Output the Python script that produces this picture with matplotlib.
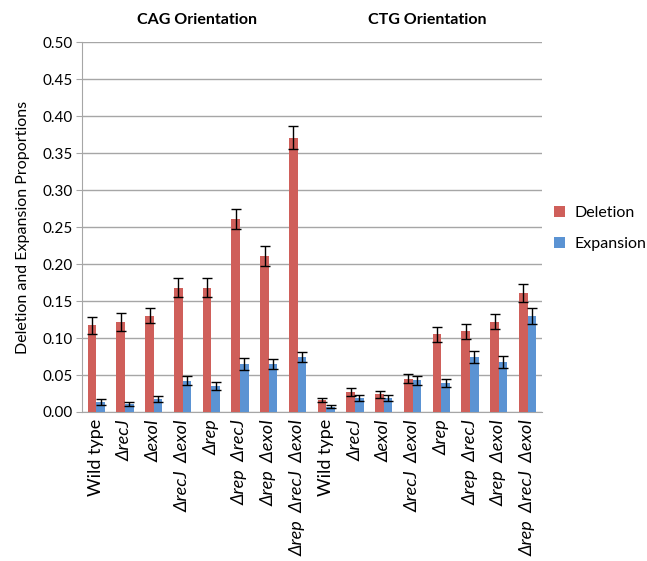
import numpy as np
import matplotlib
matplotlib.use("Agg")
from matplotlib import pyplot as plt

plt.rcParams['font.family'] = ['Lato', 'DejaVu Sans']

strains = ["Wild type", "ΔrecJ", "ΔexoI", "ΔrecJ  ΔexoI", "Δrep",
           "Δrep  ΔrecJ", "Δrep  ΔexoI", "Δrep  ΔrecJ  ΔexoI"]
labels = strains + strains

deletion = [0.117, 0.122, 0.130, 0.168, 0.168, 0.261, 0.211, 0.371,
            0.016, 0.027, 0.024, 0.045, 0.105, 0.109, 0.122, 0.161]
deletion_err = [0.011, 0.012, 0.010, 0.013, 0.013, 0.014, 0.014, 0.015,
                0.003, 0.005, 0.005, 0.006, 0.010, 0.010, 0.010, 0.012]
expansion = [0.014, 0.011, 0.017, 0.042, 0.035, 0.065, 0.065, 0.074,
             0.007, 0.019, 0.019, 0.043, 0.039, 0.074, 0.068, 0.130]
expansion_err = [0.004, 0.003, 0.004, 0.006, 0.005, 0.008, 0.007, 0.007,
                 0.002, 0.004, 0.004, 0.006, 0.005, 0.008, 0.008, 0.011]

red = '#cf5f5a'
blue = '#5b93d3'

fig = plt.figure(figsize=(6.47, 5.61), dpi=100)
ax = fig.add_axes([0.1267, 0.2656, 0.711, 0.6594])

x = np.arange(len(labels))
w = 0.3
ax.bar(x - w/2, deletion, w, color=red, label='Deletion', zorder=3)
ax.bar(x + w/2, expansion, w, color=blue, label='Expansion', zorder=3)
ax.errorbar(x - w/2, deletion, yerr=deletion_err, fmt='none', ecolor='black',
            elinewidth=1, capsize=3.5, capthick=1, zorder=4)
ax.errorbar(x + w/2, expansion, yerr=expansion_err, fmt='none', ecolor='black',
            elinewidth=1, capsize=3.5, capthick=1, zorder=4)

ax.set_xlim(-0.5, len(labels) - 0.5)
ax.set_ylim(0, 0.5)
yt = np.arange(0, 0.51, 0.05)
ax.set_yticks(yt)
ax.set_yticklabels(['%.2f' % v for v in yt], fontsize=11)
ax.grid(axis='y', color='#a6a6a6', linewidth=1, zorder=0)
ax.set_axisbelow(True)
for s in ['top', 'right']:
    ax.spines[s].set_visible(False)
for s in ['left', 'bottom']:
    ax.spines[s].set_color('#a6a6a6')
ax.tick_params(axis='y', length=4, color='#a6a6a6', pad=3)
ax.tick_params(axis='x', length=0, pad=5)

ax.set_xticks(x)
ax.set_xticklabels(labels, rotation=90, fontsize=13)
for t in ax.get_xticklabels():
    if t.get_text() != "Wild type":
        t.set_style('italic')

ax.set_ylabel('Deletion and Expansion Proportions', fontsize=11.5, labelpad=9)

# group headings
ax.text(3.5, 1.04, 'CAG Orientation', transform=ax.get_xaxis_transform(),
        ha='center', va='bottom', fontsize=11.5, fontweight='bold')
ax.text(11.5, 1.04, 'CTG Orientation', transform=ax.get_xaxis_transform(),
        ha='center', va='bottom', fontsize=11.5, fontweight='bold')

ax.legend(loc='center left', bbox_to_anchor=(1.012, 0.497), frameon=False,
          borderaxespad=0, fontsize=11.5, handlelength=0.7, handleheight=0.7,
          labelspacing=1.05, handletextpad=0.6)

fig.savefig('out.png', dpi=100)
